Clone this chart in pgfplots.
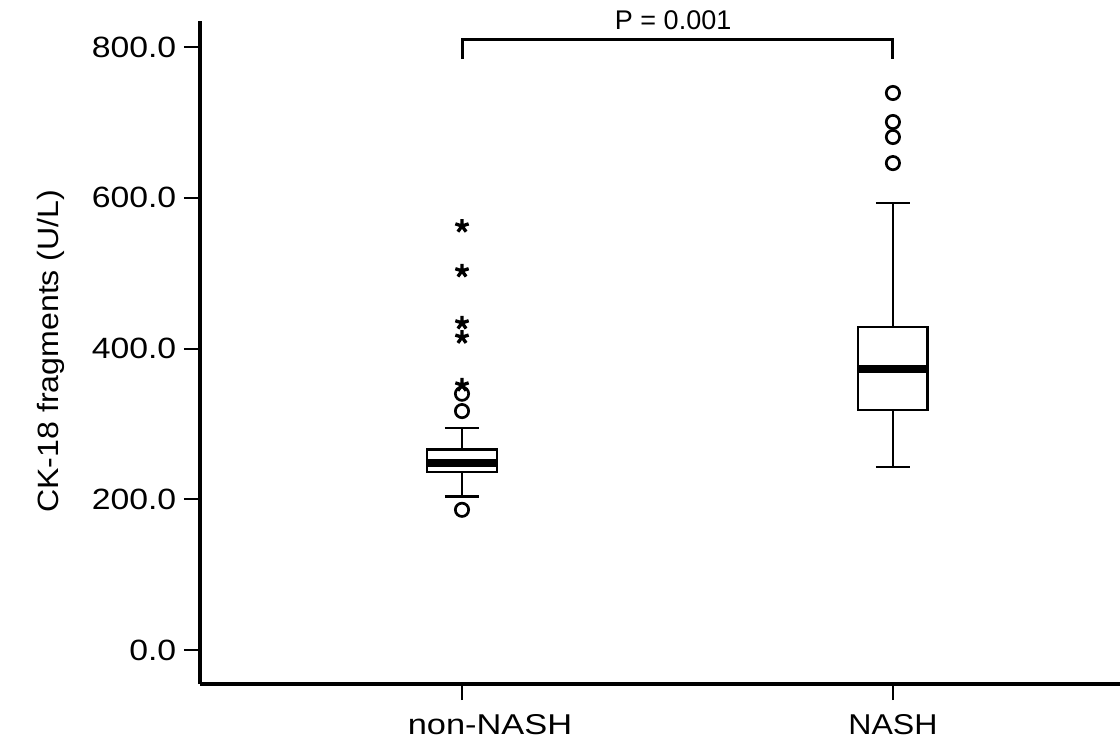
\documentclass[border=0pt]{standalone}
\usepackage{pgfplots}
\pgfplotsset{compat=1.18}
\usepackage{fontspec}
\setmainfont{Liberation Sans}
\usepackage{graphicx}

\begin{document}
\begin{tikzpicture}
% page = 1120 x 740 px at 0.3pt per px, axis box origin at px (200,684)
\useasboundingbox (-60pt,-16.8pt) rectangle (276pt,205.2pt);
\begin{axis}[
  scale only axis,
  width=276pt, height=198.9pt,
  xmin=0.392, xmax=2.527,
  ymin=-45.1, ymax=834.5,
  axis lines*=left,
  axis line style={line width=1pt, black},
  tick align=outside,
  major tick length=4.8pt,
  tick style={line width=0.6pt, black},
  xtick={1,2},
  xticklabels={\hspace*{16.8pt}\scalebox{1.2}[1]{non-NASH},\scalebox{1.12}[1]{NASH}},
  ytick={0,200,400,600,800},
  yticklabel={\scalebox{1.15}[1]{\pgfmathprintnumber[fixed,fixed zerofill,precision=1,assume math mode=true]{\tick}}},
  x tick label style={font=\fontsize{8.6}{10}\selectfont, yshift=-0.8pt},
  y tick label style={font=\fontsize{8.8}{10}\selectfont, xshift=1.2pt},
  ylabel={\scalebox{1.095}[1]{CK-18 fragments (U/L)}},
  ylabel style={font=\fontsize{8.8}{10}\selectfont, at={(axis description cs:0,0.502)}, anchor=north, inner sep=0pt, yshift=48.9pt},
  clip=false,
]
% non-NASH box: whiskers 204/294.5, quartiles 236/266, median 248
\addplot[black, line width=0.8pt] coordinates {(1,204) (1,236)};
\addplot[black, line width=0.8pt] coordinates {(1,266) (1,294.5)};
\addplot[black, line width=0.8pt] coordinates {(0.9605,204) (1.0395,204)};
\addplot[black, line width=0.8pt] coordinates {(0.9605,294.5) (1.0395,294.5)};
\addplot[black, line width=0.8pt, fill=white] coordinates {(0.919,236) (1.081,236) (1.081,266) (0.919,266)} -- cycle;
\addplot[black, line width=2.2pt] coordinates {(0.919,248) (1.081,248)};
% NASH box: whiskers 242.8/593, quartiles 318.4/428.5, median 372.8
\addplot[black, line width=0.8pt] coordinates {(2,242.8) (2,318.4)};
\addplot[black, line width=0.8pt] coordinates {(2,428.5) (2,593)};
\addplot[black, line width=0.8pt] coordinates {(1.9605,242.8) (2.0395,242.8)};
\addplot[black, line width=0.8pt] coordinates {(1.9605,593) (2.0395,593)};
\addplot[black, line width=0.8pt, fill=white] coordinates {(1.919,318.4) (2.081,318.4) (2.081,428.5) (1.919,428.5)} -- cycle;
\addplot[black, line width=2.2pt] coordinates {(1.919,372.8) (2.081,372.8)};
% outliers
\addplot[only marks, mark=o, mark size=2pt, line width=0.8pt, black]
  coordinates {(1,186) (1,317) (1,340) (2,646) (2,680.6) (2,700.5) (2,739)};
% extremes
\addplot[only marks, mark=star, mark size=2.1pt, line width=1pt, black]
  coordinates {(1,351.6) (1,415) (1,434) (1,503) (1,562.5)};
% significance bracket
\draw[line width=0.9pt] (axis cs:1,784) -- (axis cs:1,810.6) -- (axis cs:2,810.6) -- (axis cs:2,784);
\node[anchor=base, inner sep=0pt, font=\fontsize{8.1}{10}\selectfont] at (axis cs:1.49,822.6) {P = 0.001};
\end{axis}
\end{tikzpicture}
\end{document}
